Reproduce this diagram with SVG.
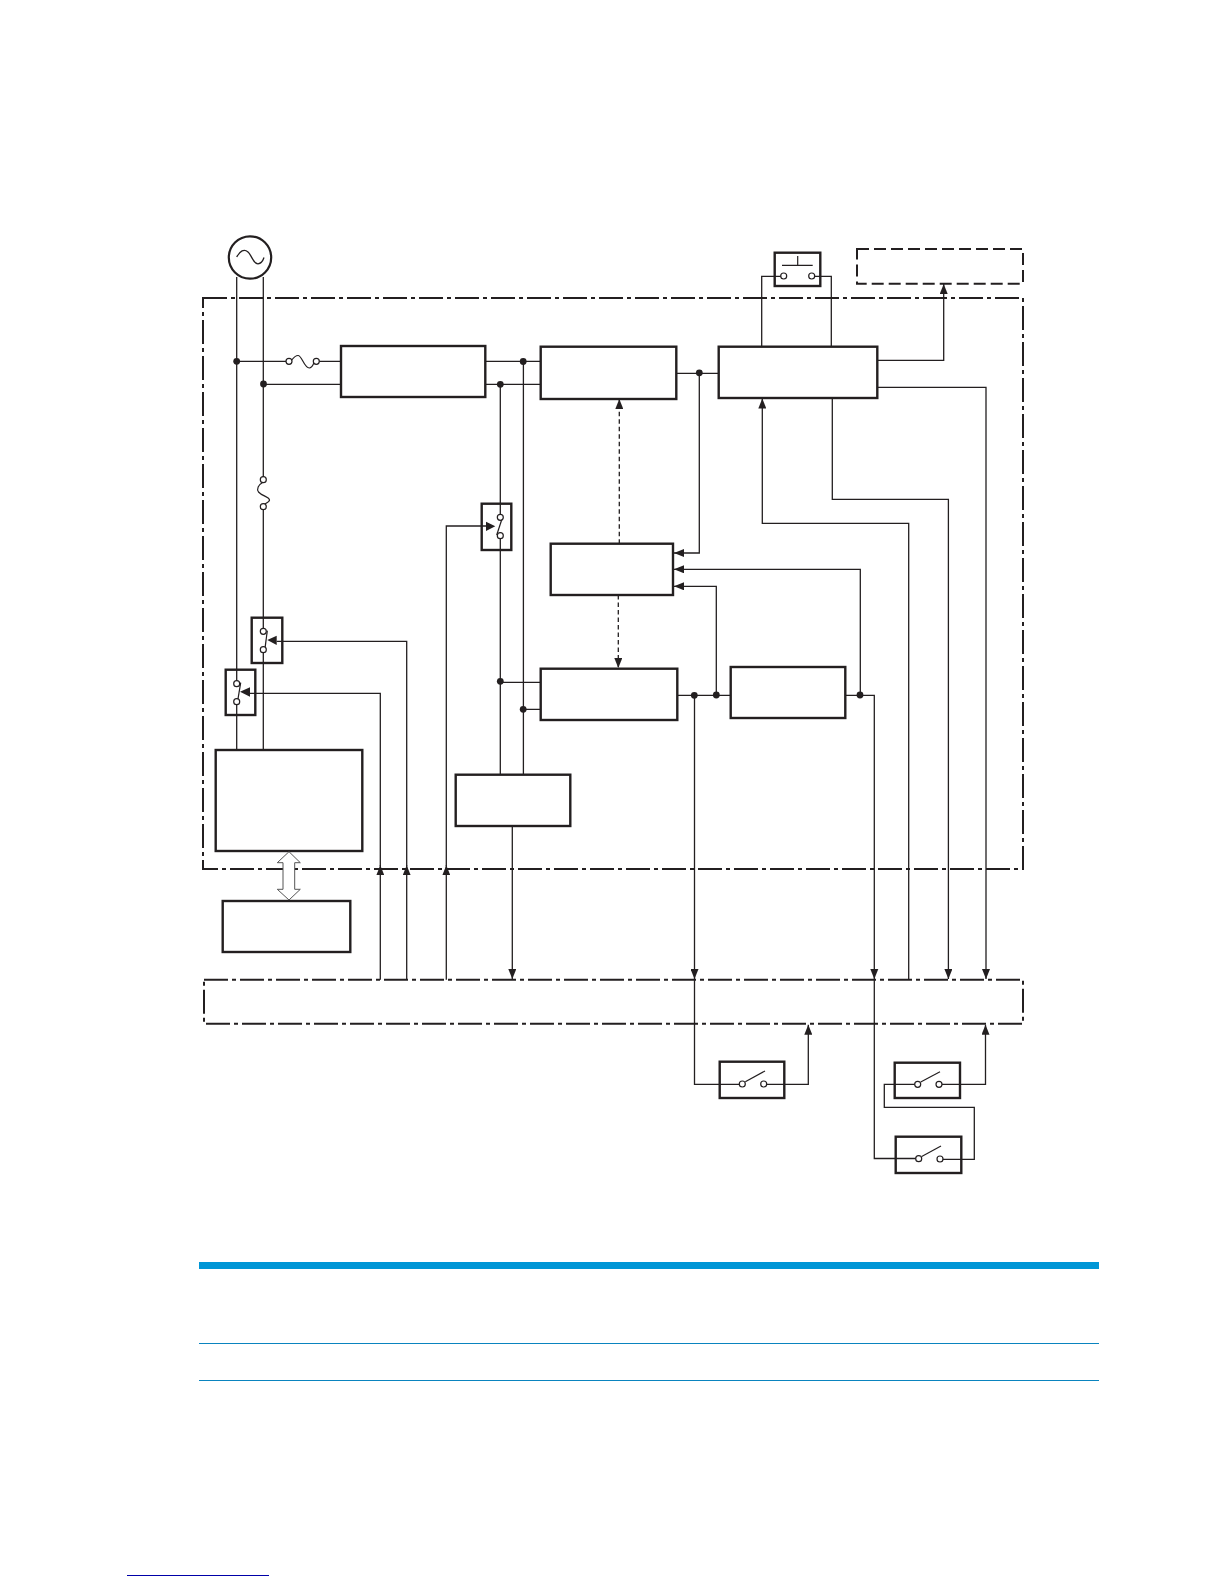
<svg xmlns="http://www.w3.org/2000/svg" width="1224" height="1584" viewBox="0 0 1224 1584">
<style>
.w{fill:none;stroke:#231f20;stroke-width:1.3}
.box{fill:#fff;stroke:#231f20;stroke-width:2.4}
.sw{fill:none;stroke:#231f20;stroke-width:2.4}
.c{fill:#fff;stroke:#231f20;stroke-width:1.2}
.d{fill:#231f20;stroke:none}
.frame{fill:none;stroke:#231f20;stroke-width:2;stroke-dasharray:24 4 4 4}
.dash{fill:none;stroke:#231f20;stroke-width:2;stroke-dasharray:12 5}
.sd{stroke-dasharray:4.500 3}
.ah{marker-end:url(#arr)}
.thin{fill:none;stroke:#231f20;stroke-width:1.2}
</style>
<defs>
<marker id="arr" markerUnits="userSpaceOnUse" viewBox="0 0 10 8" refX="10" refY="4" markerWidth="10" markerHeight="8" orient="auto"><path d="M0 0L10 4L0 8z" fill="#231f20"/></marker>
</defs>
<rect width="1224" height="1584" fill="#fff"/>
<g id="frames">
<rect id="main-frame" class="frame" x="203" y="298" width="820" height="571"/>
<rect id="bus-frame" class="frame" x="204" y="979.700" width="819" height="44"/>
<rect id="external-frame" class="dash" x="857" y="249" width="166" height="34.700"/>
</g>
<g id="connectors">
<path class="w" d="M236.700 277V683.700M236.700 701.700V750"/>
<path class="w" d="M263.300 277V479.700M263.300 506.700V631.300M263.300 649.700V750"/>
<path class="w" d="M236.700 361.300H289M316.300 361.300H341"/>
<path class="w" d="M263.300 384.300H341"/>
<path class="w" d="M485.300 361.300H540.700M485.300 384.300H540.700"/>
<path class="w" d="M500.300 384.300V517.300M500.300 535.700V774.700"/>
<path class="w" d="M523.400 361.300V774.700"/>
<path class="w" d="M500.300 682.300H540.700M523.400 709.300H540.700"/>
<path class="w" d="M676.300 373.300H718.700"/>
<path class="w ah" d="M699.300 373.300V553H674"/>
<path class="w sd ah" d="M619.300 543.700V399"/>
<path class="w sd ah" d="M618.300 595V668"/>
<path class="w" d="M761.700 346.700V276.300H783.700M831.300 346.700V276.300H811.700"/>
<path class="w ah" d="M877.300 360.300H943.700V284"/>
<path class="w ah" d="M877.300 387.300H986V979"/>
<path class="w ah" d="M832.300 398V499.300H948.400V979"/>
<path class="w ah" d="M908.700 979.700V523.300H762.300V398.500"/>
<path class="w" d="M677.300 695.300H730.700M845.300 695.300H874.300V1158.500H918"/>
<path class="w ah" d="M716.300 695.300V586.300H674"/>
<path class="w ah" d="M860.300 695.300V569.300H674"/>
<path class="w ah" d="M694.500 695.300V979"/>
<path class="d" d="M874.300 979L870.300 969H878.300z"/>
<path class="w" d="M694.500 979V1084.300H742.300"/>
<path class="w ah" d="M763.700 1084.300H808.300V1024.700"/>
<path class="w ah" d="M939 1084.300H985.500V1024.700"/>
<path class="w" d="M917.700 1084.300H884.300V1107.300H974.300V1159.300H940"/>
<path class="w ah" d="M380.300 979.700V865.300"/>
<path class="w ah" d="M406.700 979.700V865.300"/>
<path class="w ah" d="M446.300 979.700V865.300"/>
<path class="w" d="M380.300 866V693.300H250"/>
<path class="w" d="M406.700 866V641.300H276.700"/>
<path class="w" d="M446.300 866V526H486"/>
<path class="w ah" d="M512.300 826V979"/>
<path class="d" d="M240 691.700L250 687.300V696.700zM267.300 640L276.700 635.700V645zM495.300 526.300L486 521.700V531z"/>
<circle class="d" cx="236.700" cy="361.300" r="3.400"/>
<circle class="d" cx="263.500" cy="384" r="3.400"/>
<circle class="d" cx="523.200" cy="361.500" r="3.400"/>
<circle class="d" cx="500.300" cy="384.300" r="3.400"/>
<circle class="d" cx="699.300" cy="372.800" r="3.400"/>
<circle class="d" cx="500.300" cy="681.300" r="3.400"/>
<circle class="d" cx="523.200" cy="709.300" r="3.400"/>
<circle class="d" cx="694.300" cy="695.300" r="3.400"/>
<circle class="d" cx="716.300" cy="695" r="3.400"/>
<circle class="d" cx="860" cy="695" r="3.400"/>
</g>
<g id="ac-source">
<circle cx="250" cy="257.500" r="21.200" fill="#fff" stroke="#231f20" stroke-width="2.200"/>
<path class="w" d="M236.700 257C240 251 244 248.500 248 252C252 255.500 253 264 258 263.800C261 263.500 263 260.500 264 257.500"/>
</g>
<g id="fuse-h">
<path class="thin" d="M291.700 360C294 357 296 355.500 298 355.500C302 355.500 304 368 309.300 368C312 368 313 365 314 362.700"/>
<circle class="c" cx="289" cy="361.300" r="3"/>
<circle class="c" cx="316.300" cy="361.300" r="3"/>
</g>
<g id="fuse-v">
<path class="thin" d="M263.300 482C258 485 256.500 489 258.500 492C262 496 269.500 497 269.500 500C269.500 502 266 503 264 504.500"/>
<circle class="c" cx="263.300" cy="479.700" r="3"/>
<circle class="c" cx="263.300" cy="506.700" r="3"/>
</g>
<g id="box-filter"><rect class="box" x="341" y="346" width="144.300" height="51"/></g>
<g id="box-rectifier"><rect class="box" x="540.700" y="346.700" width="135.600" height="52.300"/></g>
<g id="box-converter"><rect class="box" x="718.700" y="346.700" width="158.600" height="51.300"/></g>
<g id="box-control"><rect class="box" x="550.700" y="543.700" width="122.300" height="51.300"/></g>
<g id="box-lower"><rect class="box" x="540.700" y="668.700" width="136.600" height="51.300"/></g>
<g id="box-right"><rect class="box" x="730.700" y="667" width="114.600" height="51"/></g>
<g id="box-pcb"><rect class="box" x="215.700" y="750" width="146.600" height="101"/></g>
<g id="box-center"><rect class="box" x="455.700" y="774.700" width="114.600" height="51.300"/></g>
<g id="box-bottom"><rect class="box" x="222.700" y="901" width="127.600" height="51"/></g>
<g id="double-arrow">
<path d="M289 851.700L300.300 862.700H294.700V889.300H300.300L289 900L277.300 889.300H283V862.700H277.300Z" fill="#fff" stroke="#555" stroke-width="1"/>
</g>
<g id="relay-1">
<rect class="sw" x="481.700" y="503.700" width="29.600" height="46.300"/>
<path class="thin" d="M502.700 516.700L496.700 535"/>
<circle class="c" cx="500.300" cy="517.300" r="3"/>
<circle class="c" cx="500.300" cy="535.700" r="3"/>
</g>
<g id="relay-2">
<rect class="sw" x="251.700" y="617.700" width="30.600" height="45.300"/>
<path class="thin" d="M267.300 630.700L265 648.300"/>
<circle class="c" cx="263.300" cy="631.300" r="3"/>
<circle class="c" cx="263.300" cy="649.700" r="3"/>
</g>
<g id="relay-3">
<rect class="sw" x="225.700" y="669.700" width="29.600" height="45.300"/>
<path class="thin" d="M240.700 682.700L237.700 700.700"/>
<circle class="c" cx="236.700" cy="683.700" r="3"/>
<circle class="c" cx="236.700" cy="701.700" r="3"/>
</g>
<g id="push-switch">
<rect class="sw" x="774.700" y="252.700" width="45.600" height="33.300"/>
<path class="thin" d="M782 265.300H812.700M797.700 256V265.300"/>
<circle class="c" cx="783.700" cy="276" r="3"/>
<circle class="c" cx="811.700" cy="276" r="3"/>
</g>
<g id="switch-a">
<rect class="sw" x="719.700" y="1061.700" width="64.600" height="36.300"/>
<path class="thin" d="M745.300 1081.700L765 1071"/>
<circle class="c" cx="742.300" cy="1084" r="3"/>
<circle class="c" cx="763.700" cy="1084" r="3"/>
</g>
<g id="switch-b">
<rect class="sw" x="894.700" y="1062.700" width="65.300" height="35.300"/>
<path class="thin" d="M920.700 1082L940 1071.700"/>
<circle class="c" cx="917.700" cy="1084.300" r="3"/>
<circle class="c" cx="939" cy="1084.300" r="3"/>
</g>
<g id="switch-c">
<rect class="sw" x="895.700" y="1136.700" width="65.600" height="36.300"/>
<path class="thin" d="M921.700 1156.500L941 1146"/>
<circle class="c" cx="918.700" cy="1158.700" r="3"/>
<circle class="c" cx="940" cy="1159" r="3"/>
</g>
<g id="table-rules">
<rect x="199" y="1262" width="900" height="7" fill="#0096d6"/>
<rect x="199" y="1343" width="900" height="1" fill="#0a84bf"/>
<rect x="199" y="1380" width="900" height="1" fill="#0a84bf"/>
<rect x="127" y="1575" width="142" height="1" fill="#0000a8"/>
</g>
</svg>
